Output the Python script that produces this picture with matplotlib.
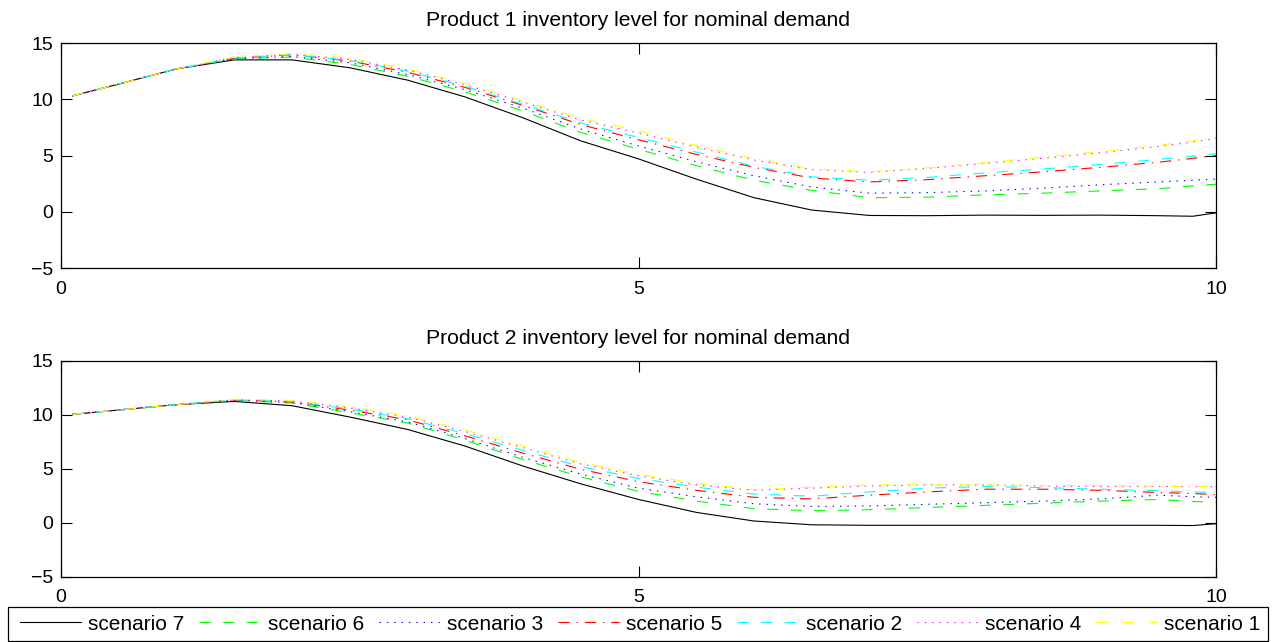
# Inventory levels per scenario, two products, nominal demand
import matplotlib
matplotlib.use("Agg")
import matplotlib.pyplot as plt
from matplotlib.patches import Rectangle

plt.rcParams['font.family'] = ['Liberation Sans', 'DejaVu Sans']
plt.rcParams['lines.scale_dashes'] = False

# time grid
t = [0.1, 0.5, 1.0, 1.5, 2.0, 2.5, 3.0, 3.5, 4.0, 4.5, 5.0,
     5.5, 6.0, 6.5, 7.0, 7.5, 8.0, 8.5, 9.0, 9.5, 9.8, 10.0]

# Product 1
p1_s7 = [10.3, 11.35, 12.7, 13.5, 13.5, 12.8, 11.7, 10.2, 8.35, 6.3, 4.7,
         2.9, 1.25, 0.15, -0.33, -0.35, -0.3, -0.32, -0.3, -0.35, -0.4, -0.1]
p1_s6 = [10.3, 11.35, 12.7, 13.6, 13.75, 13.1, 12.05, 10.65, 8.95, 7.05, 5.55,
         4.1, 2.8, 1.9, 1.25, 1.3, 1.5, 1.65, 1.85, 2.05, 2.3, 2.45]
p1_s3 = [10.3, 11.35, 12.7, 13.6, 13.8, 13.25, 12.2, 10.85, 9.2, 7.35, 5.85,
         4.45, 3.2, 2.2, 1.65, 1.7, 1.85, 2.1, 2.4, 2.65, 2.8, 2.9]
p1_s5 = [10.3, 11.35, 12.7, 13.65, 13.95, 13.4, 12.4, 11.05, 9.45, 7.75, 6.4,
         5.1, 3.95, 3.0, 2.65, 2.85, 3.2, 3.55, 3.95, 4.4, 4.75, 5.0]
p1_s2 = [10.3, 11.35, 12.7, 13.65, 13.95, 13.45, 12.5, 11.15, 9.55, 7.9, 6.6,
         5.3, 4.05, 3.1, 2.8, 3.05, 3.45, 3.8, 4.2, 4.65, 4.95, 5.15]
p1_s4 = [10.3, 11.35, 12.7, 13.7, 14.0, 13.55, 12.6, 11.3, 9.75, 8.15, 7.0,
         5.75, 4.6, 3.75, 3.5, 3.85, 4.3, 4.75, 5.25, 5.8, 6.2, 6.5]
p1_s1 = [10.3, 11.35, 12.7, 13.75, 14.05, 13.65, 12.7, 11.4, 9.85, 8.3, 7.2,
         5.9, 4.75, 3.8, 3.55, 3.9, 4.35, 4.85, 5.35, 5.9, 6.3, 6.6]

# Product 2
p2_s7 = [10.05, 10.45, 10.95, 11.25, 10.85, 9.8, 8.65, 7.1, 5.25, 3.6, 2.15,
         0.95, 0.15, -0.2, -0.25, -0.25, -0.25, -0.25, -0.25, -0.25, -0.27, -0.1]
p2_s6 = [10.05, 10.45, 10.95, 11.35, 11.1, 10.2, 9.25, 7.65, 5.85, 4.25, 2.9,
         2.0, 1.3, 1.1, 1.2, 1.4, 1.6, 1.8, 2.0, 2.15, 1.95, 1.95]
p2_s3 = [10.05, 10.45, 10.95, 11.35, 11.15, 10.3, 9.35, 7.8, 6.05, 4.5, 3.2,
         2.4, 1.75, 1.5, 1.55, 1.7, 1.85, 2.0, 2.2, 2.55, 2.4, 2.35]
p2_s5 = [10.05, 10.45, 10.95, 11.4, 11.2, 10.45, 9.55, 8.05, 6.45, 4.95, 3.8,
         3.0, 2.35, 2.2, 2.55, 2.85, 3.1, 3.1, 3.0, 2.8, 2.7, 2.6]
p2_s2 = [10.05, 10.45, 10.95, 11.4, 11.25, 10.55, 9.65, 8.25, 6.7, 5.2, 4.1,
         3.3, 2.65, 2.45, 2.85, 3.2, 3.35, 3.25, 3.1, 2.95, 2.85, 2.8]
p2_s4 = [10.05, 10.45, 10.95, 11.4, 11.3, 10.65, 9.8, 8.45, 6.95, 5.45, 4.35,
         3.5, 3.0, 3.2, 3.4, 3.5, 3.5, 3.4, 3.35, 3.35, 3.35, 3.35]
p2_s1 = [10.05, 10.45, 10.95, 11.45, 11.35, 10.75, 9.9, 8.6, 7.1, 5.6, 4.5,
         3.65, 3.05, 3.3, 3.5, 3.5, 3.5, 3.45, 3.45, 3.4, 3.35, 3.35]

labels = ['scenario 7', 'scenario 6', 'scenario 3', 'scenario 5',
          'scenario 2', 'scenario 4', 'scenario 1']
# MATLAB-style pure colours k g b r c m y
colors = [(0, 0, 0), (0, 1, 0), (0, 0, 1), (1, 0, 0),
          (0, 1, 1), (1, 0, 1), (1, 1, 0)]
dashed = (0, (8, 9))
dotted = (0, (1, 4.3))
dashdot = (0, (8, 5, 1, 5))
styles = ['-', dashed, dotted, dashdot, dashed, dotted, dashdot]


def draw_panel(ax, series, title):
    lines = []
    for ys, c, ls, lab in zip(series, colors, styles, labels):
        ln, = ax.plot(t, ys, color=c, linestyle=ls, linewidth=0.8, label=lab)
        lines.append(ln)
    ax.set_xlim(0, 10)
    ax.set_ylim(-5, 15)
    ax.set_xticks([0, 5, 10])
    ax.set_yticks([-5, 0, 5, 10, 15])
    ax.tick_params(direction='in', top=True, right=True, length=8, width=0.8,
                   labelsize=14)
    ax.tick_params(axis='x', pad=9)
    ax.tick_params(axis='y', pad=5.5)
    for sp in ax.spines.values():
        sp.set_linewidth(0.9)
    ax.set_title(title, fontsize=15.2, pad=12)
    return lines


def main():
    fig = plt.figure(figsize=(12.82, 6.42), dpi=100)
    W, H = 1282.0, 642.0
    ax1 = fig.add_axes([61 / W, 1 - 268 / H, 1155 / W, 225 / H])
    ax2 = fig.add_axes([61 / W, 1 - 576.5 / H, 1155 / W, 215.5 / H])

    draw_panel(ax1, [p1_s7, p1_s6, p1_s3, p1_s5, p1_s2, p1_s4, p1_s1],
               'Product 1 inventory level for nominal demand')
    lines = draw_panel(ax2, [p2_s7, p2_s6, p2_s3, p2_s5, p2_s2, p2_s4, p2_s1],
                       'Product 2 inventory level for nominal demand')

    # legend box drawn by hand so its padding matches the MATLAB one
    fig.patches.append(Rectangle((8 / W, 1 - 641 / H), 1260 / W, 34 / H,
                                 transform=fig.transFigure, fill=False,
                                 edgecolor='black', linewidth=0.9))
    fig.legend(lines, labels, loc='center left', bbox_to_anchor=(20 / W, 1 - 624 / H),
               ncol=7, fontsize=15, frameon=False, handlelength=2.93,
               handletextpad=0.34, columnspacing=0.72, borderpad=0,
               borderaxespad=0)

    fig.savefig('out.png', dpi=100)


if __name__ == "__main__":
    main()
